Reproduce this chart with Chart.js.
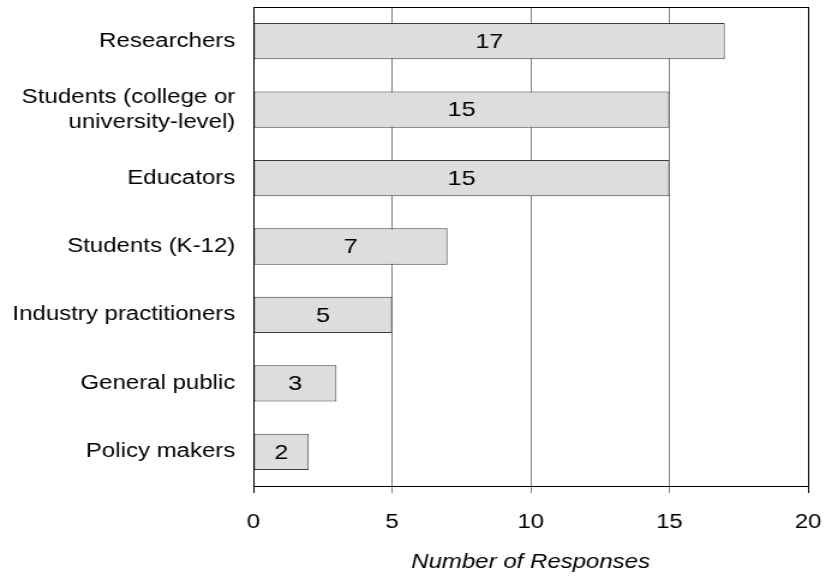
<!doctype html>
<html lang="en">
<head>
    <meta charset="utf-8">
    <title>Number of Responses</title>
    <script src="https://cdn.jsdelivr.net/npm/chart.js@4.4.1/dist/chart.umd.min.js"></script>
    <style>
        html, body { margin: 0; padding: 0; background: #fff; overflow: hidden; }
        /* the reference is stretched sideways, so the chart is drawn narrower and widened */
        #wrap { position: relative; width: 688px; height: 581px; transform: scaleX(1.2006); transform-origin: 0 0; }
    </style>
</head>
<body>
    <div id="wrap">
        <canvas id="myChart"></canvas>
    </div>

    <script>
        var categories = [
            'Researchers',
            ['Students (college or', 'university-level)'],
            'Educators',
            'Students (K-12)',
            'Industry practitioners',
            'General public',
            'Policy makers'
        ];
        var responses = [17, 15, 15, 7, 5, 3, 2];
        var xTicks = [0, 5, 10, 15, 20];
        var xTitle = 'Number of Responses';

        var FONT = "'Liberation Sans', Arial, sans-serif";

        // plot frame + value written in the middle of each bar
        var valueLabels = {
            id: 'valueLabels',
            afterDatasetsDraw: function (chart) {
                var ctx = chart.ctx;
                var a = chart.chartArea;
                ctx.save();
                ctx.strokeStyle = '#000';
                ctx.lineWidth = 1;
                ctx.strokeRect(Math.round(a.left) + 0.5, Math.round(a.top) + 0.5,
                    Math.round(a.right - a.left), Math.round(a.bottom - a.top));

                var meta = chart.getDatasetMeta(0);
                ctx.font = '21px ' + FONT;
                ctx.fillStyle = '#000';
                ctx.textAlign = 'center';
                ctx.textBaseline = 'middle';
                meta.data.forEach(function (bar, i) {
                    ctx.fillText(String(responses[i]), (bar.x + bar.base) / 2, bar.y + 1);
                });
                ctx.restore();
            }
        };

        var ctx = document.getElementById('myChart');
        var myChart = new Chart(ctx, {
            type: 'bar',
            data: {
                labels: categories,
                datasets: [{
                    data: responses,
                    backgroundColor: '#dddddd',
                    borderColor: '#3c3c3c',
                    borderWidth: 1,
                    borderSkipped: false,
                    barPercentage: 0.53,
                    categoryPercentage: 1
                }]
            },
            plugins: [valueLabels],
            options: {
                indexAxis: 'y',
                responsive: true,
                maintainAspectRatio: false,
                animation: false,
                layout: { padding: { top: 7, right: 15, bottom: 0, left: 0 } },
                plugins: {
                    legend: { display: false },
                    tooltip: { enabled: false }
                },
                scales: {
                    x: {
                        min: 0,
                        max: 20,
                        afterBuildTicks: function (scale) {
                            scale.ticks = xTicks.map(function (v) { return { value: v }; });
                        },
                        afterFit: function (scale) {
                            scale.height = 95;
                            scale.paddingLeft = 0;
                            scale.paddingRight = 0;
                        },
                        grid: {
                            color: function (c) {
                                var v = c.tick && c.tick.value;
                                return (v === 0 || v === 20) ? '#000' : '#808080';
                            },
                            lineWidth: 1,
                            tickLength: 7,
                            drawTicks: true
                        },
                        border: { display: true, color: '#000', width: 1 },
                        ticks: {
                            color: '#000',
                            padding: 17,
                            maxRotation: 0,
                            font: { family: FONT, size: 20 }
                        },
                        title: {
                            display: true,
                            text: xTitle,
                            color: '#000',
                            padding: { top: 0, bottom: 7 },
                            font: { family: FONT, size: 20, style: 'italic' }
                        }
                    },
                    y: {
                        afterFit: function (scale) {
                            scale.width = 211;
                            scale.paddingTop = 0;
                            scale.paddingBottom = 0;
                        },
                        grid: { display: false, drawTicks: false },
                        border: { display: true, color: '#000', width: 1 },
                        ticks: {
                            color: '#000',
                            padding: 15,
                            font: { family: FONT, size: 20, lineHeight: 1.25 }
                        }
                    }
                }
            }
        });
    </script>
</body>
</html>
